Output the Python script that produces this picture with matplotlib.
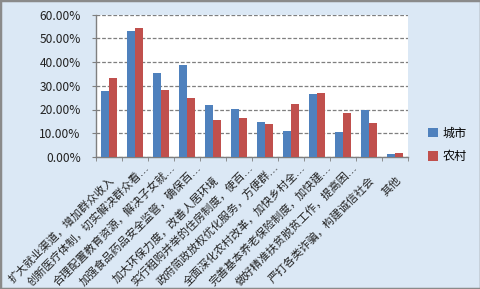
import numpy as np
import matplotlib
matplotlib.use("Agg")
import matplotlib.pyplot as plt
import matplotlib.transforms as mtrans
from matplotlib.patches import Rectangle
from matplotlib.ticker import FuncFormatter, MultipleLocator

plt.rcParams['font.family'] = ['Noto Sans CJK SC', 'DejaVu Sans']

categories = [
    "扩大就业渠道，增加群众收入",
    "创新医疗体制，切实解决群众看…",
    "合理配置教育资源，解决子女就…",
    "加强食品药品安全监管，确保百…",
    "加大环保力度，改善人居环境",
    "实行租购并举的住房制度，使百…",
    "政府简政放权优化服务，方便群…",
    "全面深化农村改革，加快乡村全…",
    "完善基本养老保险制度，加快建…",
    "做好精准扶贫脱贫工作，提高困…",
    "严打各类诈骗，构建诚信社会",
    "其他",
]
city = [27.8, 53.1, 35.4, 38.8, 21.9, 20.2, 14.8, 11.0, 26.6, 10.5, 19.8, 1.3]
rural = [33.3, 54.4, 28.2, 24.9, 15.6, 16.4, 13.9, 22.3, 27.0, 18.5, 14.3, 1.7]
series_names = ["城市", "农村"]

fig = plt.figure(figsize=(4.81, 2.89), dpi=100, facecolor="#dbe8f5")
fig.patches.append(Rectangle((0, 0), 1, 1, transform=fig.transFigure,
                             fill=False, edgecolor="#8a8a8a", linewidth=2.5))

ax = fig.add_axes([96 / 481, 132 / 289, 312 / 481, 142.5 / 289])
ax.set_facecolor("white")

x = np.arange(len(categories))
w = 0.31
ax.bar(x - w / 2, city, w, color="#4F81BD", label=series_names[0], zorder=3)
ax.bar(x + w / 2, rural, w, color="#C0504D", label=series_names[1], zorder=3)

ax.set_xlim(-0.5, len(categories) - 0.5)
ax.set_ylim(0, 60)
ax.yaxis.set_major_locator(MultipleLocator(10))
ax.yaxis.set_major_formatter(FuncFormatter(lambda v, p: f"{v:.2f}%"))
ax.grid(axis="y", color="#7f7f7f", linestyle=(0, (3, 1.5)), linewidth=0.9, zorder=1)
ax.tick_params(axis="y", labelsize=8.6, length=3, color="#7f7f7f", pad=8,
               labelcolor="#222222")

ax.set_xticks(x)
ax.set_xticklabels(categories, rotation=45, ha="right", va="center",
                   rotation_mode="anchor", fontsize=8, color="#222222",
                   family=['DejaVu Sans', 'Noto Sans CJK SC'])
ax.tick_params(axis="x", which="major", length=0, pad=0)
ax.set_xticks(np.arange(-0.5, len(categories) + 0.5, 1), minor=True)
ax.tick_params(axis="x", which="minor", length=3, color="#7f7f7f")

# cut labels sit higher, like Excel does
for lab in ax.get_xticklabels():
    if lab.get_text().endswith("…"):
        dx, dy = 12, -9
    else:
        dx, dy = 4, -21
    lab.set_transform(lab.get_transform() +
                      mtrans.ScaledTranslation(dx / 100, dy / 100, fig.dpi_scale_trans))

for s in ["top", "right"]:
    ax.spines[s].set_visible(False)
for s in ["left", "bottom"]:
    ax.spines[s].set_color("#7f7f7f")
    ax.spines[s].set_linewidth(1.0)

fig.legend(loc="upper left", bbox_to_anchor=(417 / 481, 1 - 116 / 289),
           frameon=False, fontsize=8.7, handlelength=0.8, handleheight=0.8,
           handletextpad=0.4, labelspacing=0.85)

fig.savefig("out.png", dpi=100, facecolor=fig.get_facecolor())
